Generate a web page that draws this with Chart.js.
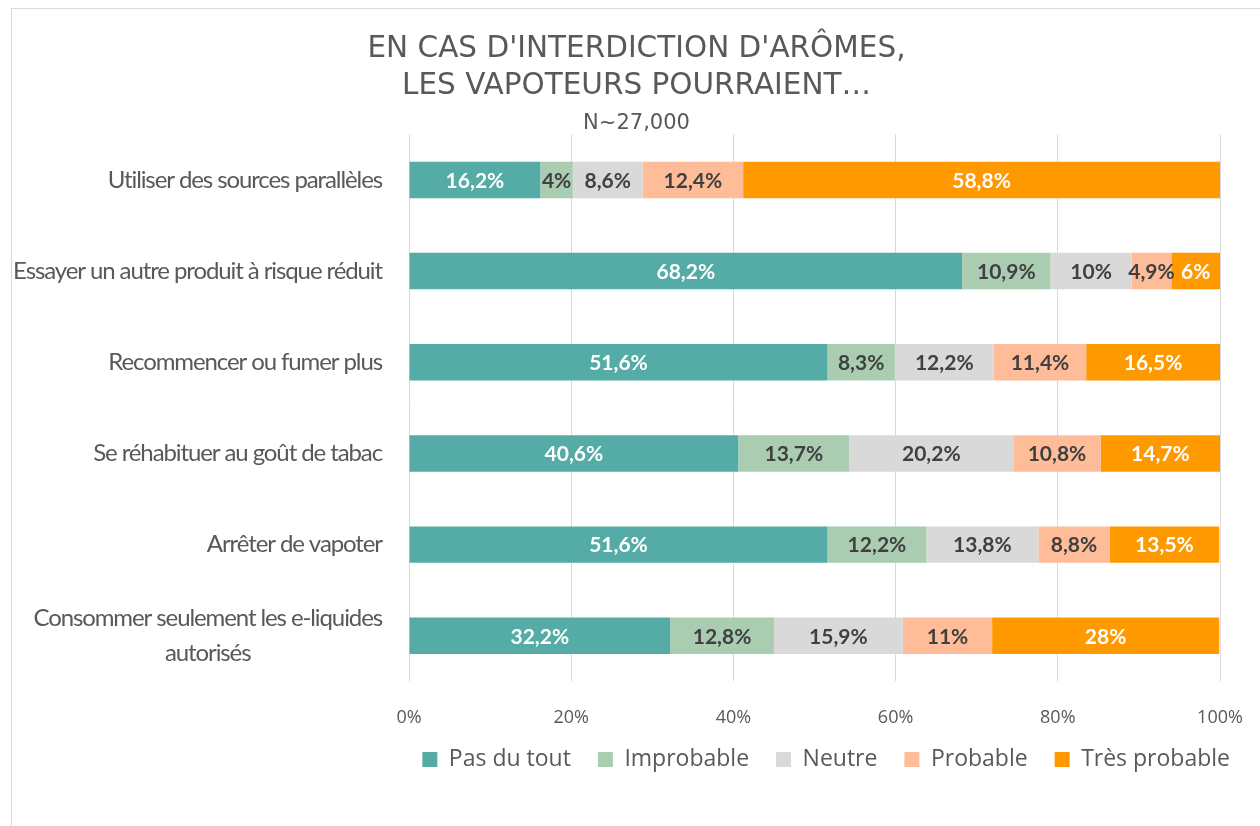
<!DOCTYPE html>
<html>
<head>
<meta charset="utf-8">
<script src="https://cdn.jsdelivr.net/npm/chart.js@4"></script>
<style>
    html, body { margin: 0; padding: 0; background: #fff; overflow: hidden; }
    #frame { position: absolute; left: 11px; top: 8px; width: 1300px; height: 900px; border: 1px solid #d9d9d9; }
    #chart { position: absolute; left: 0; top: 0; }
</style>
</head>
<body>
<div id="frame"></div>
<canvas id="chart" width="1260" height="826"></canvas>
<script>
const categories = [
    'Utiliser des sources parallèles',
    'Essayer un autre produit à risque réduit',
    'Recommencer ou fumer plus',
    'Se réhabituer au goût de tabac',
    'Arrêter de vapoter',
    ['Consommer seulement les e-liquides', 'autorisés']
];
const seriesNames = ['Pas du tout', 'Improbable', 'Neutre', 'Probable', 'Très probable'];
const pasDuTout = [16.2, 68.2, 51.6, 40.6, 51.6, 32.2];
const improbable = [4, 10.9, 8.3, 13.7, 12.2, 12.8];
const neutre = [8.6, 10, 12.2, 20.2, 13.8, 15.9];
const probable = [12.4, 4.9, 11.4, 10.8, 8.8, 11];
const tresProbable = [58.8, 6, 16.5, 14.7, 13.5, 28];
const titleLines = ["EN CAS D'INTERDICTION D'ARÔMES,", 'LES VAPOTEURS POURRAIENT…'];
const subtitleText = 'N~27,000';

const colors = ['#55aba5', '#aacdb1', '#d9d9d9', '#ffbc99', '#ff9900'];
const labelColors = ['#ffffff', '#404040', '#404040', '#404040', '#ffffff'];
const textGray = '#595959';

// category labels drawn by hand so wrapped lines stay centred on each other
const yLabelPlugin = {
    id: 'yLabels',
    afterDraw(chart) {
        const ctx = chart.ctx;
        const yScale = chart.scales.y;
        ctx.save();
        ctx.font = '24px Lato';
        ctx.letterSpacing = '-1.1px';
        ctx.fillStyle = textGray;
        ctx.textAlign = 'center';
        ctx.textBaseline = 'middle';
        categories.forEach((lab, i) => {
            const lines = Array.isArray(lab) ? lab : [lab];
            const w = Math.max(...lines.map(l => ctx.measureText(l).width));
            const cx = chart.chartArea.left - 27 - w / 2;
            const cy = yScale.getPixelForValue(i);
            lines.forEach((l, k) => {
                ctx.fillText(l, cx, cy + (k - (lines.length - 1) / 2) * 35);
            });
        });
        ctx.restore();
    }
};

const valueLabelPlugin = {
    id: 'valueLabels',
    afterDatasetsDraw(chart) {
        const ctx = chart.ctx;
        ctx.save();
        ctx.font = 'bold 21px Lato';
        ctx.textAlign = 'center';
        ctx.textBaseline = 'middle';
        chart.data.datasets.forEach((ds, di) => {
            const meta = chart.getDatasetMeta(di);
            meta.data.forEach((bar, i) => {
                const p = bar.getCenterPoint();
                ctx.fillStyle = labelColors[di];
                ctx.fillText(String(ds.data[i]).replace('.', ',') + '%', p.x, p.y + 1);
            });
        });
        ctx.restore();
    }
};

// legend needs wide gaps between items but a short box, so nudge it into place
const legendShift = {
    id: 'legendShift',
    afterLayout(chart) {
        const lg = chart.legend;
        lg.top -= 34;
        lg.bottom -= 34;
        lg.left += 15;
        lg.right += 15;
    }
};

const allSeries = [pasDuTout, improbable, neutre, probable, tresProbable];

new Chart(document.getElementById('chart').getContext('2d'), {
    type: 'bar',
    data: {
        labels: categories,
        datasets: allSeries.map((vals, i) => ({
            label: seriesNames[i],
            data: vals,
            backgroundColor: colors[i],
            borderWidth: 0,
            barPercentage: 0.8,
            categoryPercentage: 0.5
        }))
    },
    options: {
        responsive: false,
        animation: false,
        indexAxis: 'y',
        layout: { padding: { top: 8, right: 18, bottom: 11, left: 31 } },
        plugins: {
            title: {
                display: true,
                text: titleLines,
                color: textGray,
                font: { family: '"DejaVu Sans"', size: 29.5, weight: 'normal', lineHeight: 1.26 },
                padding: { top: 23, bottom: 0 }
            },
            subtitle: {
                display: true,
                text: subtitleText,
                color: textGray,
                font: { family: '"DejaVu Sans"', size: 21, lineHeight: 1.0 },
                padding: { top: 8, bottom: 0 }
            },
            legend: {
                position: 'bottom',
                align: 'end',
                labels: {
                    boxWidth: 15,
                    boxHeight: 15,
                    padding: 27,
                    color: textGray,
                    font: { family: '"Open Sans"', size: 23 }
                }
            },
            tooltip: { enabled: false }
        },
        scales: {
            x: {
                stacked: true,
                min: 0,
                max: 100,
                ticks: {
                    stepSize: 20,
                    padding: 26,
                    color: textGray,
                    font: { family: '"Open Sans"', size: 18 },
                    callback: v => v + '%'
                },
                grid: { color: '#d9d9d9', drawTicks: false },
                border: { display: false },
                afterFit(s) { s.paddingRight = 40; }
            },
            y: {
                stacked: true,
                ticks: { display: false },
                grid: { display: false },
                border: { display: false },
                afterFit(s) { s.width = 378; }
            }
        }
    },
    plugins: [yLabelPlugin, valueLabelPlugin, legendShift]
});
</script>
</body>
</html>
